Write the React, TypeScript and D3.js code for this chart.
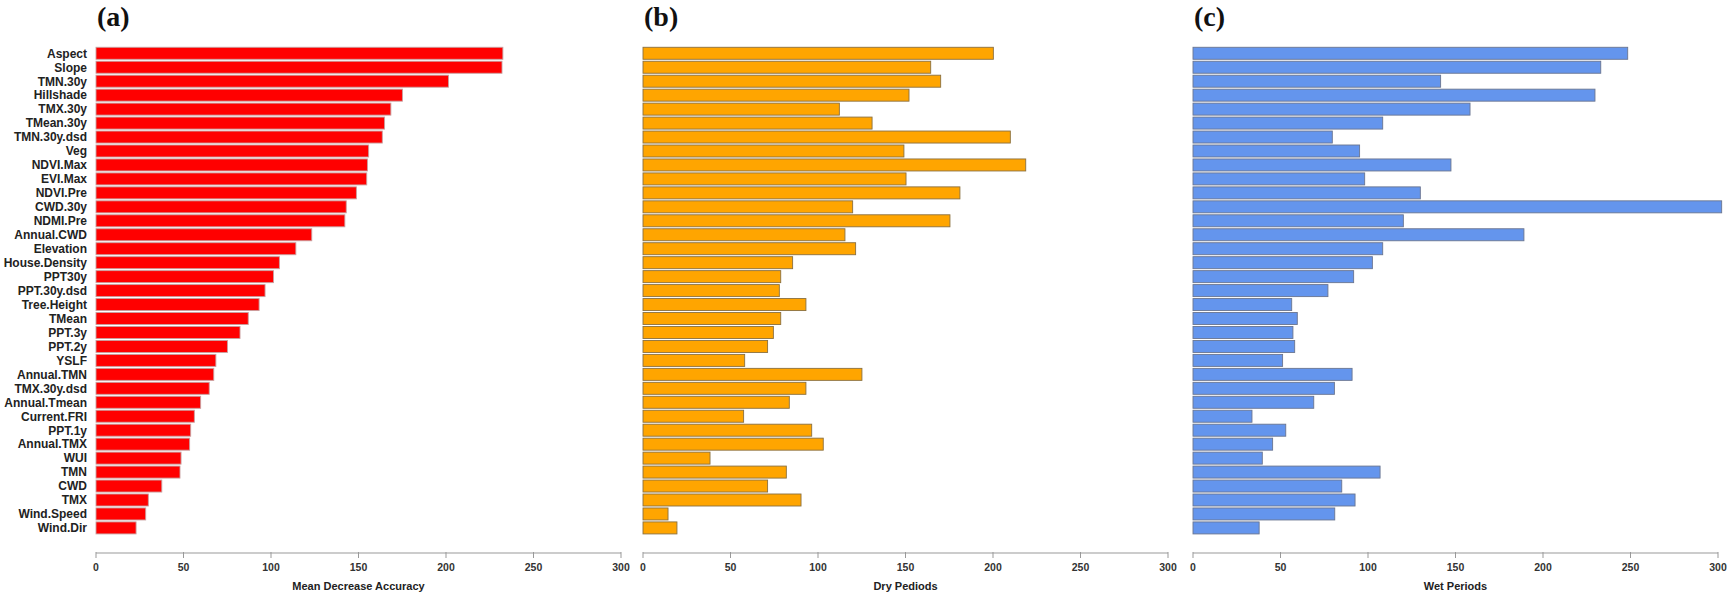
import React from "react";
import * as d3 from "d3";

const categories = [
  "Aspect", "Slope", "TMN.30y", "Hillshade", "TMX.30y", "TMean.30y", "TMN.30y.dsd", "Veg",
  "NDVI.Max", "EVI.Max", "NDVI.Pre", "CWD.30y", "NDMI.Pre", "Annual.CWD", "Elevation",
  "House.Density", "PPT30y", "PPT.30y.dsd", "Tree.Height", "TMean", "PPT.3y", "PPT.2y", "YSLF",
  "Annual.TMN", "TMX.30y.dsd", "Annual.Tmean", "Current.FRI", "PPT.1y", "Annual.TMX", "WUI",
  "TMN", "CWD", "TMX", "Wind.Speed", "Wind.Dir",
];

const meanDecreaseAccuracy = [
  232.5, 232, 201.4, 175.1, 168.5, 164.9, 163.6, 155.8, 155.1, 154.7, 148.8, 143, 142.2, 123.3,
  114.2, 104.8, 101.4, 96.6, 93.2, 87, 82.3, 75.1, 68.5, 67.3, 64.7, 59.8, 56.2, 54.1, 53.5, 48.6,
  48, 37.6, 29.9, 28.4, 22.9,
];

const dryPeriods = [
  200.2, 164.4, 170.1, 152, 112.2, 130.9, 209.9, 149.1, 218.7, 150.3, 181.1, 119.8, 175.4, 115.4,
  121.5, 85.5, 78.7, 77.9, 93.1, 78.7, 74.5, 71.2, 58.1, 125.1, 93.1, 83.6, 57.5, 96.4, 103, 38.3,
  81.9, 71.2, 90.3, 14.3, 19.4,
];

const wetPeriods = [
  248.4, 233, 141.5, 229.7, 158.3, 108.4, 79.6, 95.2, 147.4, 98.1, 129.9, 302.1, 120.2, 189.1,
  108.4, 102.5, 91.8, 77.1, 56.4, 59.6, 57.1, 58.1, 51.2, 90.9, 80.8, 69, 33.7, 53, 45.5, 39.6,
  106.9, 85, 92.6, 81, 37.8,
];

const tickValues = [0, 50, 100, 150, 200, 250, 300];

const panels = [
  { tag: "(a)", title: "Mean Decrease Accuracy", values: meanDecreaseAccuracy, x0: 96, fill: "#ff0000", stroke: "#c8a0a0", labels: true },
  { tag: "(b)", title: "Dry Pediods", values: dryPeriods, x0: 643, fill: "#ffa500", stroke: "#8a7040", labels: false },
  { tag: "(c)", title: "Wet Periods", values: wetPeriods, x0: 1193, fill: "#6495ed", stroke: "#6a7590", labels: false },
];

const W = 1729;
const H = 594;
const PANEL_W = 525;
const AXIS_Y = 553;

export default function App() {
  const y = d3
    .scaleBand<string>()
    .domain(categories)
    .range([46.3, 46.3 + 13.96 * 35])
    .paddingInner(0.14)
    .paddingOuter(0.07);

  return (
    <svg
      width={W}
      height={H}
      style={{ position: "absolute", left: 0, top: 0, background: "#fff" }}
      fontFamily="Liberation Sans, Arial, sans-serif"
    >
      {panels.map((p) => {
        const x = d3.scaleLinear().domain([0, 300]).range([p.x0, p.x0 + PANEL_W]);
        return (
          <g key={p.tag}>
            <text
              x={x(0) + 1}
              y={26}
              fontFamily="Liberation Serif, Times New Roman, serif"
              fontWeight="bold"
              fontSize={28}
              fill="#111"
            >
              {p.tag}
            </text>
            {categories.map((c, i) => (
              <rect
                key={c}
                x={x(0)}
                y={y(c)}
                width={x(p.values[i]) - x(0)}
                height={y.bandwidth()}
                fill={p.fill}
                stroke={p.stroke}
                strokeWidth={0.9}
              />
            ))}
            {p.labels &&
              categories.map((c) => (
                <text
                  key={c}
                  x={x(0) - 9}
                  y={(y(c) as number) + y.bandwidth() / 2}
                  dy="0.36em"
                  textAnchor="end"
                  fontSize={12}
                  fontWeight="bold"
                  fill="#222"
                >
                  {c}
                </text>
              ))}
            <line x1={x(0)} x2={x(300)} y1={AXIS_Y} y2={AXIS_Y} stroke="#999" strokeWidth={1} />
            {tickValues.map((t) => (
              <g key={t}>
                <line x1={x(t)} x2={x(t)} y1={AXIS_Y - 1} y2={AXIS_Y + 5} stroke="#999" strokeWidth={1} />
                <text
                  x={x(t)}
                  y={AXIS_Y + 18}
                  textAnchor="middle"
                  fontSize={10.5}
                  fontWeight="bold"
                  fill="#333"
                >
                  {t}
                </text>
              </g>
            ))}
            <text
              x={(x(0) + x(300)) / 2}
              y={AXIS_Y + 37}
              textAnchor="middle"
              fontSize={11}
              fontWeight="bold"
              fill="#222"
            >
              {p.title}
            </text>
          </g>
        );
      })}
    </svg>
  );
}
